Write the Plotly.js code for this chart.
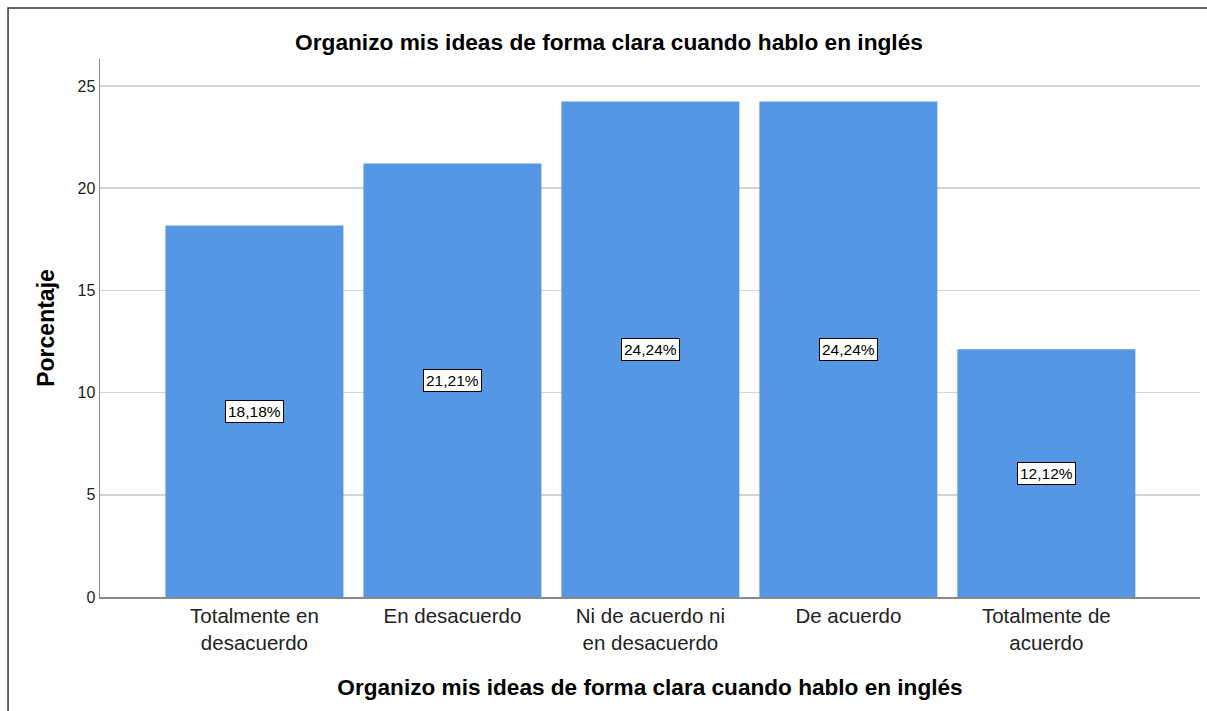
<!DOCTYPE html>
<html>
<head>
<meta charset="utf-8">
<script src="https://cdn.plot.ly/plotly-3.0.1.min.js"></script>
<style>
html,body{margin:0;padding:0;background:#fff;}
#chart{width:1207px;height:711px;}
</style>
</head>
<body>
<div id="chart"></div>
<script>
const categories = ["Totalmente en<br>desacuerdo", "En desacuerdo", "Ni de acuerdo ni<br>en desacuerdo", "De acuerdo", "Totalmente de<br>acuerdo"];
const percentages = [18.18, 21.21, 24.24, 24.24, 12.12];
const yTicks = [0, 5, 10, 15, 20, 25];
const chartTitle = "Organizo mis ideas de forma clara cuando hablo en inglés";
const yTitle = "Porcentaje";

const FONT = 'Arial, Liberation Sans, sans-serif';
const xIdx = categories.map((c, i) => i);

const trace = {
  type: 'bar',
  x: xIdx,
  y: percentages,
  marker: {color: '#5596E5', line: {width: 0}},
  hoverinfo: 'none'
};

const valueLabels = percentages.map((v, i) => ({
  x: i, y: v / 2, xref: 'x', yref: 'y',
  text: v.toFixed(2).replace('.', ',') + '%',
  showarrow: false,
  bgcolor: '#ffffff',
  bordercolor: '#000000',
  borderwidth: 1,
  borderpad: 2,
  font: {family: FONT, size: 15.5, color: '#000'}
}));

const layout = {
  width: 1207, height: 711,
  margin: {l: 100, r: 7, t: 59, b: 114},
  paper_bgcolor: '#ffffff',
  plot_bgcolor: '#ffffff',
  showlegend: false,
  bargap: 0.101,
  title: {
    text: '<b>' + chartTitle + '</b>',
    x: 609 / 1207, xref: 'container', xanchor: 'center',
    y: 1 - 42 / 711, yref: 'container', yanchor: 'middle',
    font: {family: FONT, size: 22.7, color: '#000'}
  },
  xaxis: {
    range: [-0.78, 4.776],
    tickvals: xIdx,
    ticktext: categories,
    showticklabels: true,
    tickfont: {family: FONT, size: 20.5, color: '#222'},
    showgrid: false,
    zeroline: false,
    showline: true,
    linecolor: '#888888',
    linewidth: 1.5,
    ticks: '',
    title: {
      text: '<b>' + chartTitle + '</b>',
      font: {family: FONT, size: 22.6, color: '#000'},
      standoff: 26
    },
    fixedrange: true
  },
  yaxis: {
    range: [0, 26.32],
    tickvals: yTicks,
    ticktext: yTicks.map(String),
    showgrid: true,
    gridcolor: '#d4d4d4',
    gridwidth: 1.5,
    zeroline: false,
    showline: true,
    linecolor: '#888888',
    linewidth: 1.5,
    ticks: '',
    tickfont: {family: FONT, size: 16, color: '#222'},
    title: {
      text: '<b>' + yTitle + '</b>',
      font: {family: FONT, size: 23, color: '#000'},
      standoff: 16
    },
    fixedrange: true
  },
  annotations: valueLabels,
  shapes: [{
    type: 'path',
    xref: 'paper', yref: 'paper',
    path: 'M -0.0836,-0.3 L -0.0836,1.0948 L 1.1,1.0948',
    line: {color: '#333333', width: 1.5}
  }]
};

Plotly.newPlot('chart', [trace], layout, {displayModeBar: false, staticPlot: true});
</script>
</body>
</html>
